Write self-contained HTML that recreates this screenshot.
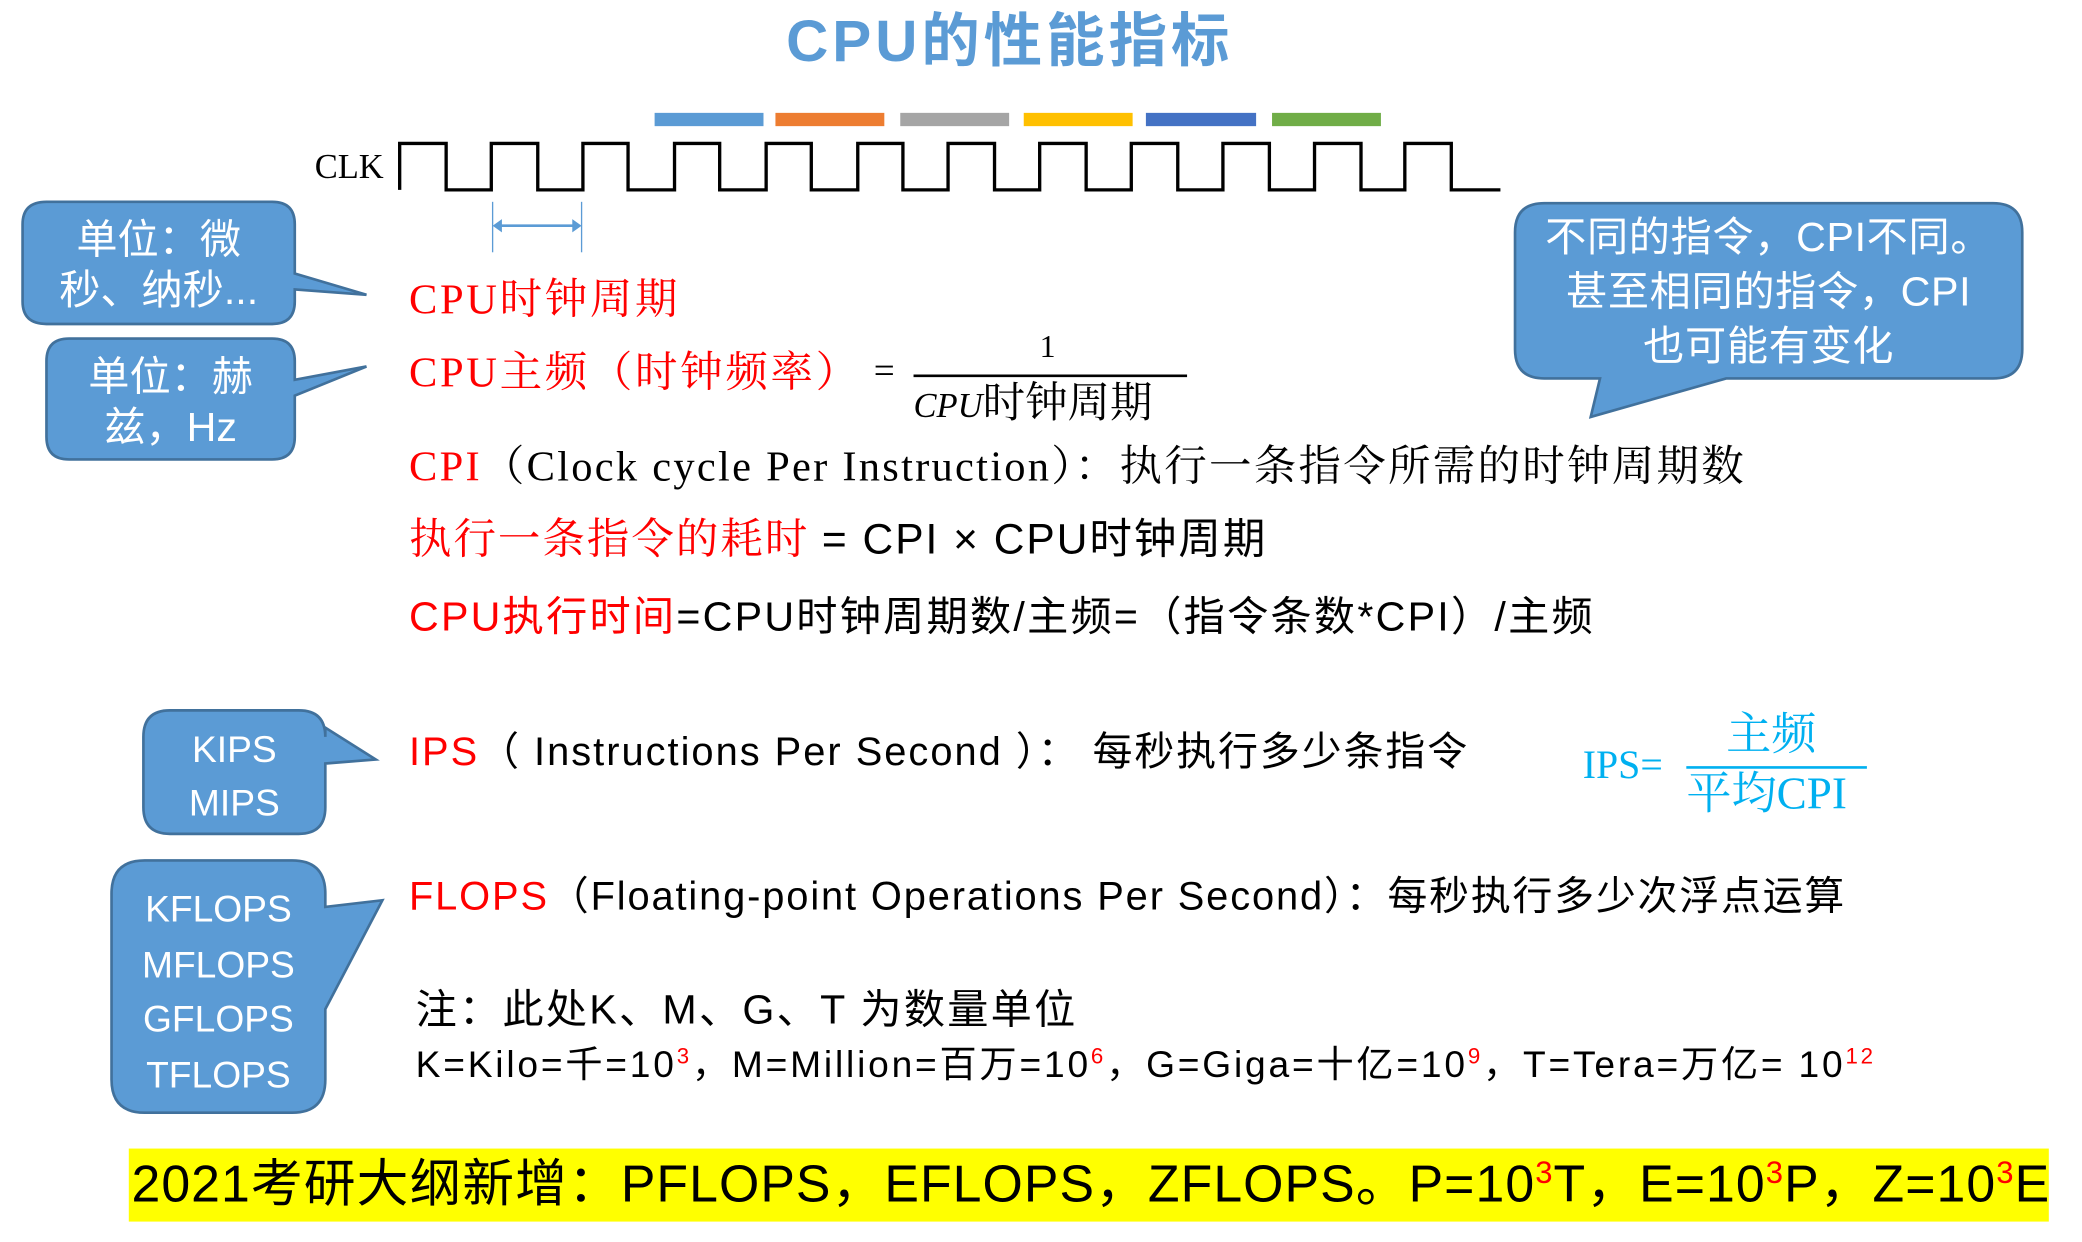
<!DOCTYPE html>
<html><head><meta charset="utf-8"><style>
html,body{margin:0;padding:0;background:#fff;}
body{width:2082px;height:1242px;overflow:hidden;position:relative;}
#s{position:absolute;left:0;top:0;width:1568px;height:935px;transform:scale(1.32781);transform-origin:0 0;}
.t{position:absolute;white-space:nowrap;line-height:1;}
.sans{font-family:"Liberation Sans","Noto Sans CJK SC",sans-serif;}
.serif{font-family:"Liberation Serif","Noto Serif CJK SC",serif;}
.r{color:#f00;}
.w{color:#fff;text-align:center;}
sup{font-size:60%;color:#f00;vertical-align:0;position:relative;top:-0.6em;}
</style></head><body><div id="s">
<svg width="1568" height="935" style="position:absolute;left:0;top:0">
<g>
<rect x="493" y="85" width="82" height="10" fill="#5B9BD5"/>
<rect x="584" y="85" width="82" height="10" fill="#ED7D31"/>
<rect x="678" y="85" width="82" height="10" fill="#A5A5A5"/>
<rect x="771" y="85" width="82" height="10" fill="#FFC000"/>
<rect x="863" y="85" width="83" height="10" fill="#4472C4"/>
<rect x="958" y="85" width="82" height="10" fill="#70AD47"/>
</g>
<path d="M301,143 V108 H336 V143 H370 V108 H405 V143 H439 V108 H473 V143 H508 V108 H542 V143 H577 V108 H611 V143 H646 V108 H680 V143 H714 V108 H749 V143 H783 V108 H818 V143 H852 V108 H887 V143 H921 V108 H956 V143 H990 V108 H1025 V143 H1058 V108 H1093 V143 H1130" fill="none" stroke="#000" stroke-width="2.5"/>
<line x1="371" y1="152" x2="371" y2="190" stroke="#5B9BD5" stroke-width="1"/>
<line x1="438" y1="152" x2="438" y2="190" stroke="#5B9BD5" stroke-width="1"/>
<line x1="375" y1="170" x2="434" y2="170" stroke="#5B9BD5" stroke-width="2"/>
<path d="M371,170 l7,-5 v10 z M438,170 l-7,-5 v10 z" fill="#5B9BD5"/>
<g fill="#5B9BD5" stroke="#41719C" stroke-width="2">
<path d="M35,152 H205 Q222,152 222,169 V206 L276,222 L222,218 V227 Q222,244 205,244 H35 Q17,244 17,227 V169 Q17,152 35,152 Z"/>
<path d="M52,255 H205 Q222,255 222,272 V286 L276,276 L222,298 V329 Q222,346 205,346 H52 Q35,346 35,329 V272 Q35,255 52,255 Z"/>
<path d="M1163,153 H1501 Q1523,153 1523,175 V263 Q1523,285 1501,285 H1300 L1198,314 L1205,285 H1163 Q1141,285 1141,263 V175 Q1141,153 1163,153 Z"/>
<path d="M128,535 H225 Q245,535 245,555 V548 L283,572 L245,575 V608 Q245,628 225,628 H128 Q108,628 108,608 V555 Q108,535 128,535 Z"/>
<path d="M109,648 H220 Q245,648 245,673 V683 L288,678 L245,760 V813 Q245,838 220,838 H109 Q84,838 84,813 V673 Q84,648 109,648 Z"/>
</g>
<line x1="688" y1="283" x2="894" y2="283" stroke="#000" stroke-width="2"/>
<line x1="1270" y1="578" x2="1406" y2="578" stroke="#00B0F0" stroke-width="2"/>
<rect x="97" y="865" width="1446" height="55" fill="#FFFF00"/>
</svg>
<div class="t sans" style="left:592px;top:10px;font-size:44px;font-weight:bold;color:#5B9BD5;letter-spacing:3px;">CPU的性能指标</div>
<div class="t serif" style="left:237px;top:113px;font-size:26px;">CLK</div>
<div class="t sans w" style="left:17px;top:162px;width:205px;font-size:31px;line-height:38px;">单位：微<br>秒、纳秒...</div>
<div class="t sans w" style="left:35px;top:265px;width:187px;font-size:31px;line-height:38px;">单位：赫<br>兹，Hz</div>
<div class="t sans w" style="left:1141px;top:158px;width:382px;font-size:31px;line-height:41px;letter-spacing:0.5px;">不同的指令，CPI不同。<br>甚至相同的指令，CPI<br>也可能有变化</div>
<div class="t sans w" style="left:108px;top:545px;width:137px;font-size:28px;line-height:40px;">KIPS<br>MIPS</div>
<div class="t sans w" style="left:84px;top:664px;width:161px;font-size:28px;line-height:41.5px;">KFLOPS<br>MFLOPS<br>GFLOPS<br>TFLOPS</div>
<div class="t serif r" style="left:308px;top:209px;font-size:32px;letter-spacing:2px;">CPU时钟周期</div>
<div class="t serif r" style="left:308px;top:264px;font-size:32px;letter-spacing:2px;">CPU主频（时钟频率）</div>
<div class="t serif" style="left:658px;top:266px;font-size:28px;">=</div>
<div class="t serif" style="left:783px;top:250px;font-size:24px;">1</div>
<div class="t serif" style="left:688px;top:287px;font-size:32px;"><i style="font-size:26px">CPU</i>时钟周期</div>
<div class="t serif" style="left:308px;top:335px;font-size:32px;letter-spacing:1.7px;"><span class="r">CPI</span>（Clock cycle Per Instruction）：执行一条指令所需的时钟周期数</div>
<div class="t serif" style="left:308px;top:390px;font-size:32px;letter-spacing:1.5px;"><span class="r">执行一条指令的耗时</span> <span class="sans">= CPI × CPU时钟周期</span></div>
<div class="t sans" style="left:308px;top:449px;font-size:31px;letter-spacing:1.7px;"><span class="r">CPU执行时间</span>=CPU时钟周期数/主频=（指令条数*CPI）/主频</div>
<div class="t sans" style="left:308px;top:552px;font-size:30px;letter-spacing:1.5px;"><span class="r">IPS</span>（ Instructions Per Second ）： 每秒执行多少条指令</div>
<div class="t serif" style="left:1192px;top:562px;font-size:30px;color:#00B0F0;">IPS=</div>
<div class="t serif" style="left:1300px;top:537px;font-size:34px;color:#00B0F0;">主频</div>
<div class="t serif" style="left:1270px;top:582px;font-size:34px;color:#00B0F0;">平均CPI</div>
<div class="t sans" style="left:308px;top:661px;font-size:30px;letter-spacing:1.4px;"><span class="r">FLOPS</span>（Floating-point Operations Per Second）：每秒执行多少次浮点运算</div>
<div class="t sans" style="left:313px;top:745px;font-size:31px;letter-spacing:1.7px;">注：此处K、M、G、T 为数量单位</div>
<div class="t sans" style="left:313px;top:788px;font-size:28px;letter-spacing:2.1px;">K=Kilo=千=10<sup>3</sup>，M=Million=百万=10<sup>6</sup>，G=Giga=十亿=10<sup>9</sup>，T=Tera=万亿= 10<sup>12</sup></div>
<div class="t sans" style="left:99px;top:873px;font-size:39px;letter-spacing:0.8px;">2021考研大纲新增：PFLOPS，EFLOPS，ZFLOPS。P=10<sup>3</sup>T，E=10<sup>3</sup>P，Z=10<sup>3</sup>E</div>
</div></body></html>
